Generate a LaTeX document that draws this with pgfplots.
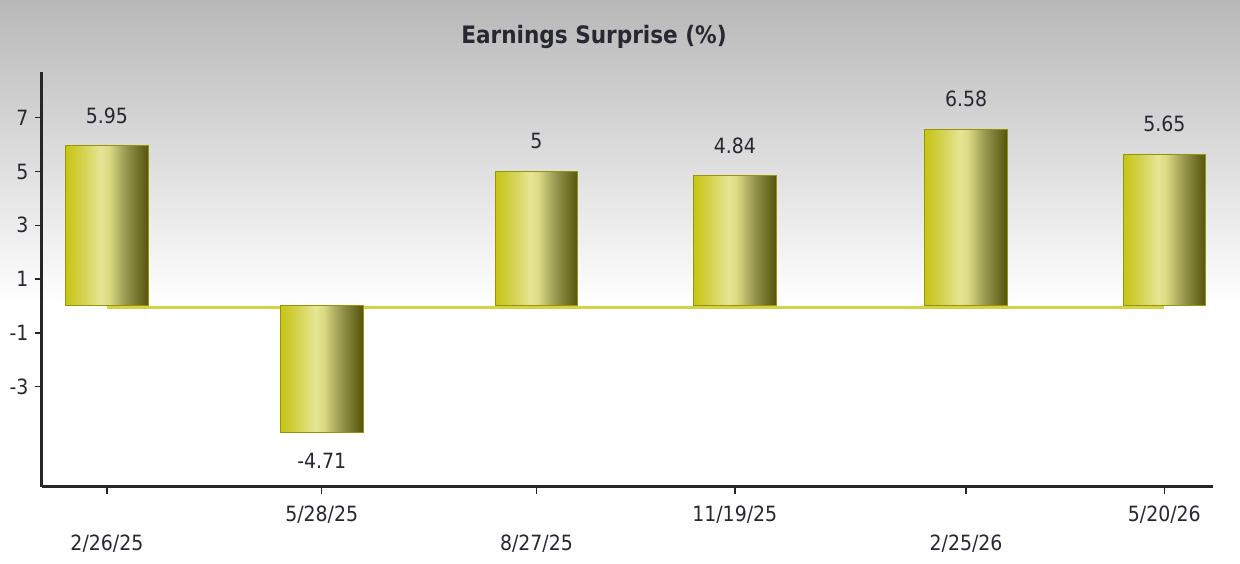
\documentclass[border=0pt]{standalone}
\usepackage{pgfplots}
\pgfplotsset{compat=1.18}
\usepackage{fontspec}
\setmainfont{DejaVu Sans Condensed}
\definecolor{bgtop}{RGB}{184,184,184}
\definecolor{baseline}{RGB}{214,210,70}
\definecolor{baredge}{RGB}{150,148,10}
\definecolor{txt}{RGB}{40,40,50}
\pgfdeclareverticalshading{bgshade}{100bp}{color(0bp)=(white); color(25bp)=(white); color(48bp)=(white); color(75bp)=(bgtop); color(100bp)=(bgtop)}
\pgfdeclarehorizontalshading{barshade}{100bp}{rgb(0bp)=(0.78,0.77,0.08); rgb(25bp)=(0.78,0.77,0.08); rgb(35bp)=(0.83,0.82,0.30); rgb(46bp)=(0.90,0.90,0.58); rgb(51bp)=(0.86,0.86,0.52); rgb(62bp)=(0.58,0.58,0.30); rgb(75bp)=(0.33,0.33,0.04); rgb(100bp)=(0.33,0.33,0.04)}
\pgfplotsset{
  cylbar/.style={ybar, bar width=35, bar shift=0pt, shading=barshade, draw=baredge, line width=1pt,
    nodes near coords, point meta=explicit symbolic,
    nodes near coords style={font=\fontsize{21}{25}\selectfont, text=txt, inner xsep=0pt, inner ysep=22pt, anchor=south}},
  negbar/.style={nodes near coords style={anchor=north, inner ysep=20pt}},
}
\begin{document}
\begin{tikzpicture}
\shade[shading=bgshade] (0,0) rectangle (1240pt,564pt);
\node[font=\bfseries\fontsize{24}{28}\selectfont, text=txt] at (594pt,527pt) {Earnings Surprise (\%)};
\begin{axis}[
  at={(42pt,77pt)}, anchor=south west,
  scale only axis, width=1171pt, height=415pt,
  xmin=-27.5, xmax=468.6, ymin=-6.73, ymax=8.70,
  axis x line*=bottom, axis y line*=left,
  axis line style={line width=3pt, draw=black!85},
  ytick={-3,-1,1,3,5,7},
  xtick={91,266,448}, xticklabels={5/28/25,11/19/25,5/20/26},
  xticklabel style={yshift=-8pt},
  extra x ticks={0,182,364}, extra x tick labels={2/26/25,8/27/25,2/25/26},
  extra x tick style={xticklabel style={yshift=-29pt}},
  tick align=outside, major tick length=7pt,
  tick style={line width=1.5pt, black!85},
  /pgf/number format/assume math mode=true,
  ticklabel style={font=\fontsize{21}{25}\selectfont, text=txt},
  yticklabel style={xshift=-3pt},
  clip=false,
]
\addplot[draw=baseline, line width=3pt, forget plot] coordinates {(0,-0.06) (448,-0.06)};
\addplot[cylbar] table[meta=label] {
x y label
0 5.95 5.95
};
\addplot[cylbar, negbar] table[meta=label] {
x y label
91 -4.71 -4.71
};
\addplot[cylbar] table[meta=label] {
x y label
182 5 5
};
\addplot[cylbar] table[meta=label] {
x y label
266 4.84 4.84
};
\addplot[cylbar] table[meta=label] {
x y label
364 6.58 6.58
};
\addplot[cylbar] table[meta=label] {
x y label
448 5.65 5.65
};
\end{axis}
\end{tikzpicture}
\end{document}
